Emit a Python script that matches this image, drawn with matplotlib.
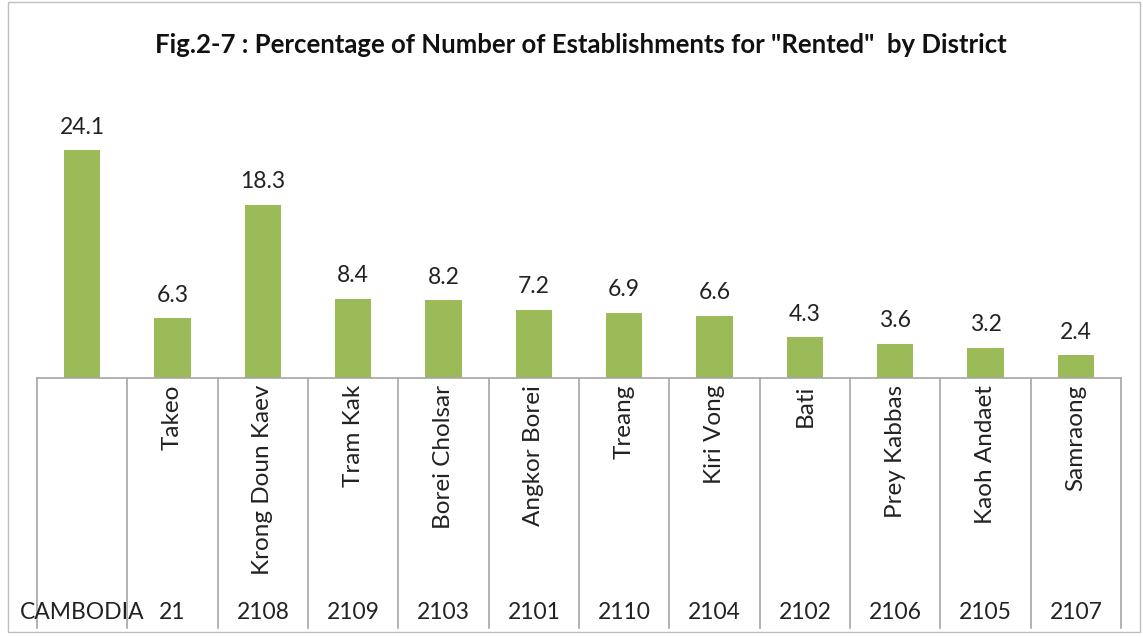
import matplotlib
matplotlib.use("Agg")
import matplotlib.pyplot as plt
from matplotlib.patches import Rectangle

plt.rcParams["font.family"] = ["Lato", "DejaVu Sans"]

districts = ["", "Takeo", "Krong Doun Kaev", "Tram Kak", "Borei Cholsar", "Angkor Borei",
             "Treang", "Kiri Vong", "Bati", "Prey Kabbas", "Kaoh Andaet", "Samraong"]
codes = ["CAMBODIA", "21", "2108", "2109", "2103", "2101", "2110", "2104", "2102",
         "2106", "2105", "2107"]
rented = [24.1, 6.3, 18.3, 8.4, 8.2, 7.2, 6.9, 6.6, 4.3, 3.6, 3.2, 2.4]

W, H = 1143, 637
fig = plt.figure(figsize=(W / 100, H / 100), dpi=100)
# axes: x 37..1121 px, y 100..378 px from top
ax = fig.add_axes([37 / W, (H - 378) / H, (1121 - 37) / W, (378 - 100) / H])

x = list(range(len(rented)))
bars = ax.bar(x, rented, width=0.4, color="#9BBB59")
for b, v in zip(bars, rented):
    ax.annotate(f"{v:.1f}", (b.get_x() + b.get_width() / 2, v), xytext=(0, 9),
                textcoords="offset points", ha="center", va="bottom",
                fontsize=16.5, color="#222222")

ax.set_xlim(-0.5, len(rented) - 0.5)
ax.set_ylim(0, 29.4)
ax.set_xticks([]); ax.set_yticks([])
for s in ["top", "right", "left"]:
    ax.spines[s].set_visible(False)
ax.spines["bottom"].set_color("#a6a6a6")
ax.spines["bottom"].set_linewidth(1.2)

# table below the axis
tr = ax.get_xaxis_transform()
for i in range(len(rented) + 1):
    ax.plot([i - 0.5, i - 0.5], [0, -0.899], transform=tr, color="#a6a6a6",
            lw=1.2, clip_on=False)
for i, (d, c) in enumerate(zip(districts, codes)):
    if d:
        ax.text(i, -0.025, d, transform=tr, rotation=90, ha="center", va="top",
                fontsize=17.5, color="#222222")
    ax.text(i, -0.842, c, transform=tr, ha="center", va="center",
            fontsize=16.5, color="#222222")

fig.text(0.508, (H - 45) / H, 'Fig.2-7 : Percentage of Number of Establishments for "Rented"  by District',
         ha="center", va="center", fontsize=18.5, fontweight="bold", color="#111111")

fig.patches.append(Rectangle((8 / W, (H - 632) / H), (1140 - 8) / W, 630 / H,
                             transform=fig.transFigure, fill=False,
                             edgecolor="#bfbfbf", lw=1))

fig.savefig("out.png", dpi=100)
